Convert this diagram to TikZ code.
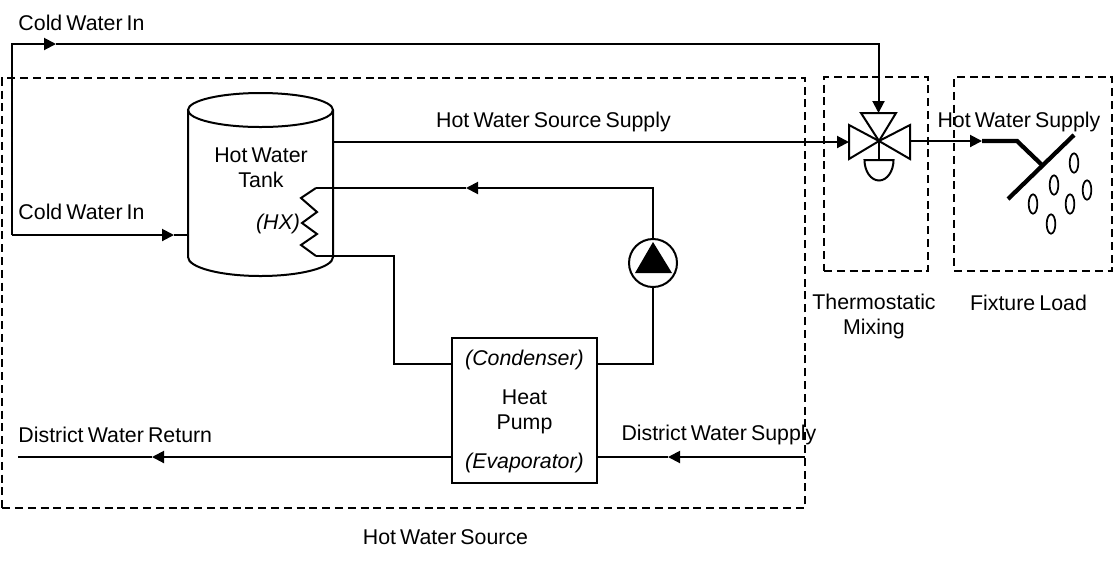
\documentclass[tikz,border=0pt]{standalone}
\usepackage{fontspec}
\setmainfont[WordSpace=0.7]{Liberation Sans}
\usetikzlibrary{arrows.meta,positioning,shapes,calc}
\begin{document}
\begin{tikzpicture}[x=.75pt,y=-.75pt,line width=1.5pt,
  flow/.style={draw,-{Triangle[length=9pt,width=9pt]}},
  zone/.style={draw,line width=1.2pt,dash pattern=on 6pt off 3.6pt},
  thick pipe/.style={draw,line width=3.2pt},
  label/.style={inner sep=0pt,font=\fontsize{16}{18.75}\selectfont,align=center},
  ital/.style={label,font=\fontsize{16}{18.75}\selectfont\itshape},
  drop/.style={draw,line width=1.3pt,ellipse,minimum width=6.5pt,minimum height=14.5pt,inner sep=0pt}]
\useasboundingbox (0,0) rectangle (1116,562);
\node[zone,minimum width=602pt,minimum height=322.5pt,inner sep=0pt] (source) at (403.5,293) {};
\node[zone,minimum width=78pt,minimum height=145.5pt,inner sep=0pt] (mixing) at (876,174) {};
\node[zone,minimum width=118.5pt,minimum height=145.5pt,inner sep=0pt] (fixture) at (1033,174) {};
% tank
\draw (260.5,110) ellipse (72.5 and 17);
\draw (188,110) -- (188,257) arc[start angle=180,end angle=0,x radius=72.5,y radius=19] -- (333,110);
\coordinate (tankin) at (188,235);
\coordinate (tankout) at (333,142);
\coordinate (hxtop) at (316,188);
\coordinate (hxbot) at (316,256);
\draw (hxtop) -- (301,198) -- (317,212) -- (302,223) -- (317,234) -- (301,245) -- (hxbot);
% heat pump
\node[draw,minimum width=108.75pt,minimum height=108.75pt,inner sep=0pt] (hp) at (524.5,410.5) {};
\coordinate (condl) at (452,364);
\coordinate (condr) at (597,364);
\coordinate (evapl) at (452,457);
\coordinate (evapr) at (597,457);
% circulator
\node[draw,circle,minimum size=36pt,inner sep=0pt] (pump) at (653,263) {};
\fill (653,242) -- (672,273) -- (635,273) -- cycle;
% valve
\coordinate (valve) at (879,141);
\coordinate (valvetop) at (878.5,113);
\coordinate (valvel) at (849,142);
\coordinate (valver) at (910,141);
\coordinate (valvestem) at (879,160);
\draw (valve) -- (849,125) -- (849,159) -- cycle;
\draw (valve) -- (910,125) -- (910,159) -- cycle;
\draw (valve) -- (861,113) -- (896,113) -- cycle;
\draw (valve) -- (valvestem);
\draw (864.5,160) -- (893.5,160) arc[start angle=0,end angle=180,x radius=14.5,y radius=20.5] -- cycle;
% fixture
\coordinate (head) at (982,141);
\draw[thick pipe] (head) -- (1017,141) -- (1042,165);
\draw[thick pipe] (1008,199) -- (1074,135);
\node[drop] (d1) at (1074,163) {};
\node[drop] (d2) at (1054,185) {};
\node[drop] (d3) at (1087,190) {};
\node[drop] (d4) at (1033,204) {};
\node[drop] (d5) at (1070,204) {};
\node[drop] (d6) at (1051,224) {};
% piping
\coordinate (tee) at (12,235);
\coordinate (c1) at (12,44);
\coordinate (c2) at (878.5,44);
\coordinate (c3) at (56,44);
\coordinate (c4) at (174,235);
\coordinate (c5) at (653,188);
\coordinate (c6) at (466,188);
\coordinate (c7) at (394,256);
\coordinate (c8) at (394,364);
\coordinate (c9) at (653,364);
\coordinate (c10) at (805,457);
\coordinate (c11) at (668,457);
\coordinate (c12) at (18,457);
\coordinate (c13) at (152,457);
\draw[flow] (tee) -- (c1) -- (c3);
\draw[flow] (c3) -- (c2) -- (valvetop);
\draw[flow] (tee) -- (c4);
\draw (c4) -- (tankin);
\draw[flow] (tankout) -- (valvel);
\draw[flow] (valver) -- (head);
\draw[flow] (pump) -- (c5) -- (c6);
\draw (c6) -- (hxtop);
\draw (hxbot) -- (c7) -- (c8) -- (condl);
\draw (condr) -- (c9) -- (pump);
\draw[flow] (c10) -- (c11);
\draw (c11) -- (evapr);
\draw[flow] (evapl) -- (c13);
\draw (c13) -- (c12);
% labels
\node[label,anchor=west] (coldtop) at (17.5,23) {Cold Water In};
\node[label,anchor=west] (coldtank) at (17.5,212) {Cold Water In};
\node[label] (srcsup) at (553.5,122) {Hot Water Source Supply};
\node[label] (tanktxt) at (261,167.5) {Hot Water\\Tank};
\node[ital] (hxtxt) at (278,224) {(HX)};
\node[ital] (condtxt) at (524.5,360) {(Condenser)};
\node[label] (hptxt) at (524.5,412) {Heat\\Pump};
\node[ital] (evaptxt) at (524.5,463) {(Evaporator)};
\node[label,anchor=west] (ret) at (17.5,435) {District Water Return};
\node[label,anchor=west] (sup) at (620.5,435) {District Water Supply};
\node[label] (srctxt) at (445.5,537) {Hot Water Source};
\node[label] (mixtxt) at (874,316) {Thermostatic\\Mixing};
\node[label] (fixtxt) at (1028.5,303) {Fixture Load};
\node[label,anchor=west] (hotsup) at (936.5,122) {Hot Water Supply};
\end{tikzpicture}
\end{document}
